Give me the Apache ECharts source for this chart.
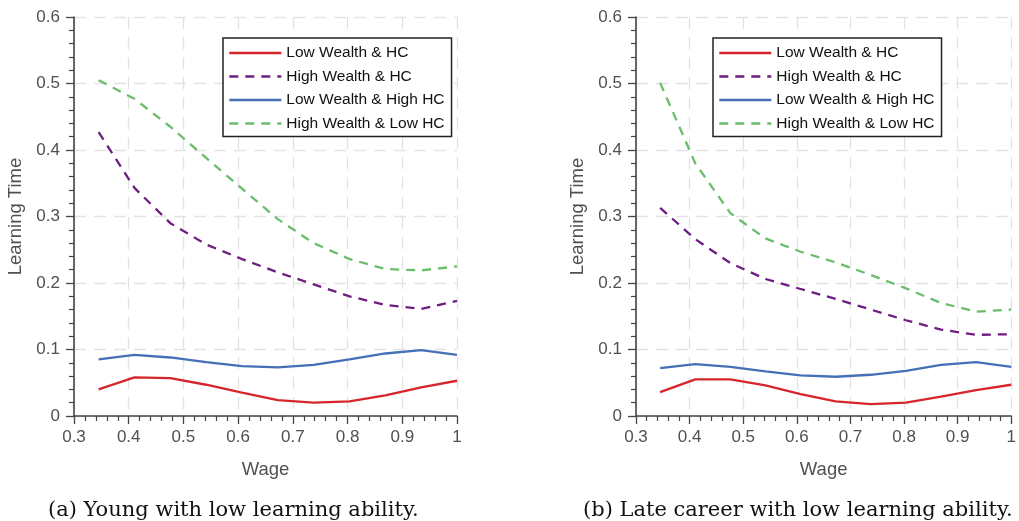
<!DOCTYPE html>
<html>
<head>
<meta charset="utf-8">
<script src="https://cdn.jsdelivr.net/npm/echarts@6/dist/echarts.min.js"></script>
<style>
html,body{margin:0;padding:0;background:#fff;}
#c{width:1019px;height:521px;}
</style>
</head>
<body>
<div id="c"></div>
<script>
// ---- data ----
const wage = [0.345, 0.4105, 0.476, 0.5415, 0.607, 0.6725, 0.738, 0.8035, 0.869, 0.9345, 1.0];
const seriesNames = ['Low Wealth & HC', 'High Wealth & HC', 'Low Wealth & High HC', 'High Wealth & Low HC'];
const xTicks = ['0.3','0.4','0.5','0.6','0.7','0.8','0.9','1'];
const yTicks = ['0','0.1','0.2','0.3','0.4','0.5','0.6'];
const captions = ['(a) Young with low learning ability.', '(b) Late career with low learning ability.'];

// panel (a): young
const youngLowWealthHC   = [0.040, 0.058, 0.057, 0.047, 0.035, 0.024, 0.020, 0.022, 0.031, 0.043, 0.053];
const youngHighWealthHC  = [0.427, 0.343, 0.290, 0.258, 0.236, 0.216, 0.198, 0.180, 0.167, 0.161, 0.173];
const youngLowWealthHiHC = [0.085, 0.092, 0.088, 0.081, 0.075, 0.073, 0.077, 0.085, 0.094, 0.099, 0.092];
const youngHiWealthLowHC = [0.505, 0.477, 0.435, 0.388, 0.342, 0.296, 0.260, 0.236, 0.221, 0.219, 0.225];

// panel (b): late career
const lateLowWealthHC   = [0.036, 0.055, 0.055, 0.046, 0.033, 0.022, 0.018, 0.020, 0.029, 0.039, 0.047];
const lateHighWealthHC  = [0.313, 0.266, 0.230, 0.206, 0.191, 0.176, 0.160, 0.144, 0.130, 0.122, 0.123];
const lateLowWealthHiHC = [0.072, 0.078, 0.074, 0.067, 0.061, 0.059, 0.062, 0.068, 0.077, 0.081, 0.074];
const lateHiWealthLowHC = [0.501, 0.380, 0.305, 0.267, 0.247, 0.231, 0.212, 0.192, 0.170, 0.157, 0.160];

// ---- styles ----
const colors = ['#d7262b', '#6e1d80', '#4570b8', '#6abd6a'];
const dashed = [false, true, false, true];
const panels = [
  [youngLowWealthHC, youngHighWealthHC, youngLowWealthHiHC, youngHiWealthLowHC],
  [lateLowWealthHC, lateHighWealthHC, lateLowWealthHiHC, lateHiWealthLowHC]
];
const gridDefs = [
  {left: 74, top: 17, width: 383, height: 399},
  {left: 636, top: 17, width: 382, height: 399}
];
const legendPos = [{left: 223, top: 38}, {left: 713, top: 38}];
const labelColor = '#505050';
const axisColor = '#444444';

function xAxis(i){
  return {
    type: 'value', gridIndex: i, min: 0.3, max: 1, interval: 0.1,
    name: 'Wage', nameLocation: 'middle', nameGap: 44,
    nameTextStyle: {fontFamily: 'Liberation Sans', fontSize: 18.5, color: labelColor},
    axisLine: {show: true, onZero: false, lineStyle: {color: axisColor, width: 1.6}},
    axisTick: {show: true, length: 8, lineStyle: {color: axisColor, width: 1.3}},
    minorTick: {show: true, splitNumber: 5, length: 5, lineStyle: {color: axisColor, width: 1.2}},
    axisLabel: {margin: 13, fontFamily: 'Liberation Sans', fontSize: 17, color: labelColor,
      formatter: v => xTicks[Math.round((v - 0.3) * 10)]},
    splitLine: {show: true, lineStyle: {color: '#e2e2e2', width: 1.3, type: [12, 8]}}
  };
}
function yAxis(i){
  return {
    type: 'value', gridIndex: i, min: 0, max: 0.6, interval: 0.1,
    name: 'Learning Time', nameLocation: 'middle', nameGap: 49,
    nameTextStyle: {fontFamily: 'Liberation Sans', fontSize: 18.5, color: labelColor},
    axisLine: {show: true, lineStyle: {color: axisColor, width: 1.6}},
    axisTick: {show: true, length: 8, lineStyle: {color: axisColor, width: 1.3}},
    minorTick: {show: true, splitNumber: 5, length: 5, lineStyle: {color: axisColor, width: 1.2}},
    axisLabel: {margin: 14, fontFamily: 'Liberation Sans', fontSize: 17, color: labelColor,
      formatter: v => yTicks[Math.round(v * 10)]},
    splitLine: {show: true, lineStyle: {color: '#e2e2e2', width: 1.3, type: [12, 8]}}
  };
}

const series = [];
panels.forEach((panel, p) => {
  panel.forEach((vals, k) => {
    series.push({
      type: 'line', name: seriesNames[k], xAxisIndex: p, yAxisIndex: p,
      data: wage.map((w, j) => [w, vals[j]]),
      symbol: 'none', smooth: false, z: 3,
      lineStyle: {color: colors[k], width: 2.3, type: dashed[k] ? [9, 7] : 'solid'},
      itemStyle: {color: colors[k]}
    });
  });
});

const legends = legendPos.map(pos => ({
  orient: 'vertical', left: pos.left, top: pos.top,
  data: seriesNames, itemWidth: 52, itemHeight: 14, itemGap: 7.5,
  padding: [7, 7, 5, 5], backgroundColor: '#fff',
  borderColor: '#222', borderWidth: 1.5, borderRadius: 0,
  itemStyle: {color: 'rgba(0,0,0,0)', borderWidth: 0, opacity: 0},
  lineStyle: {width: 2.6},
  textStyle: {fontFamily: 'Liberation Sans', fontSize: 15.5, color: '#111'},
  selectedMode: false, z: 10
}));

const graphics = captions.map((t, i) => ({
  type: 'text', left: i === 0 ? 48 : 583, top: 500,
  style: {text: t, font: '21px "DejaVu Serif"', fill: '#111'}
}));

const chart = echarts.init(document.getElementById('c'), null, {renderer: 'canvas'});
chart.setOption({
  animation: false,
  backgroundColor: '#fff',
  grid: gridDefs,
  xAxis: [xAxis(0), xAxis(1)],
  yAxis: [yAxis(0), yAxis(1)],
  legend: legends,
  series: series,
  graphic: graphics
});
</script>
</body>
</html>
